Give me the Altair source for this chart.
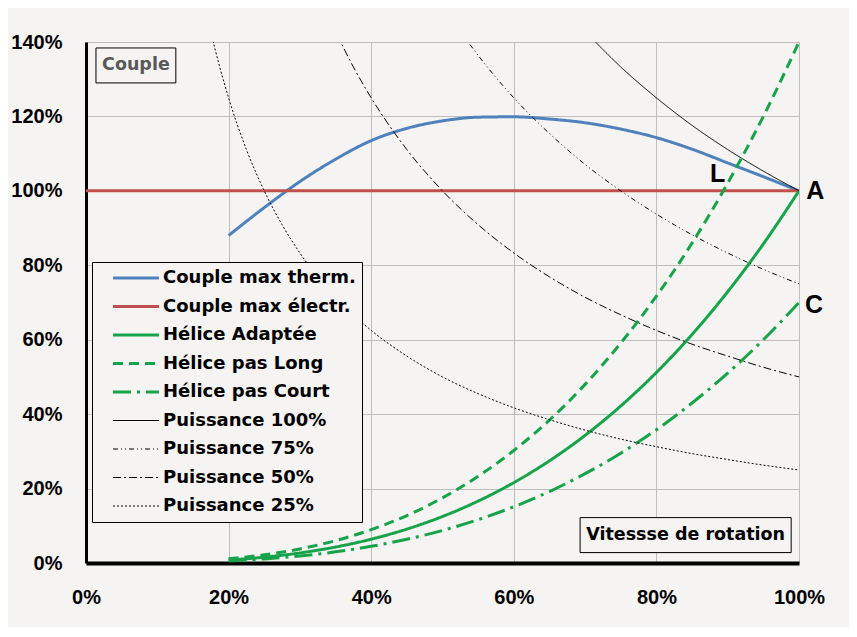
import altair as alt
import pandas as pd

# ---- data ----
series_names = ["Couple max therm.", "Couple max électr.", "Hélice Adaptée",
                "Hélice pas Long", "Hélice pas Court", "Puissance 100%",
                "Puissance 75%", "Puissance 50%", "Puissance 25%"]

therm_x = [20, 25, 30, 35, 40, 45, 50, 55, 60, 65, 70, 75, 80, 85, 90, 95, 100]
therm_y = [88, 95.5, 102.5, 108.5, 113.5, 116.8, 118.8, 119.8, 119.9, 119.3, 118.3, 116.6, 114.3, 111.2, 107.5, 103.8, 100]

elec_x = [0, 100]
elec_y = [100, 100]

hel_x = [20, 25, 30, 35, 40, 45, 50, 55, 60, 65, 70, 75, 80, 85, 90, 95, 100]
adapt_y = [0.8, 1.56, 2.7, 4.29, 6.4, 9.11, 12.5, 16.64, 21.6, 27.46, 34.3, 42.19, 51.2, 61.41, 72.9, 85.74, 100]
long_y = [1.12, 2.19, 3.78, 6.0, 8.96, 12.76, 17.5, 23.3, 30.24, 38.4, 48.0, 59.1, 71.7, 85.97, 102.1, 120.0, 140]
court_y = [0.56, 1.09, 1.89, 3.0, 4.48, 6.38, 8.75, 11.65, 15.12, 19.2, 24.0, 29.5, 35.8, 43.0, 51.0, 60.0, 70]

p100_x = [70, 75, 80, 85, 90, 95, 100]
p100_y = [142.9, 133.3, 125, 117.6, 111.1, 105.3, 100]

p75_x = [50, 52.5, 55, 60, 65, 70, 75, 80, 85, 90, 95, 100]
p75_y = [150, 142.9, 136.4, 125, 115.4, 107.1, 100, 93.75, 88.2, 83.3, 78.9, 75]

p50_x = [32.5, 35, 37.5, 40, 45, 50, 55, 60, 65, 70, 75, 80, 85, 90, 95, 100]
p50_y = [153.8, 142.9, 133.3, 125, 111.1, 100, 90.9, 83.3, 76.9, 71.4, 66.7, 62.5, 58.8, 55.6, 52.6, 50]

p25_x = [15, 17.5, 20, 22.5, 25, 27.5, 30, 35, 40, 45, 50, 55, 60, 65, 70, 75, 80, 85, 90, 95, 100]
p25_y = [166.7, 142.9, 125, 111.1, 100, 90.9, 83.3, 71.4, 62.5, 55.6, 50, 45.5, 41.7, 38.5, 35.7, 33.3, 31.25, 29.4, 27.8, 26.3, 25]

x_ticks = [0, 20, 40, 60, 80, 100]
y_ticks = [0, 20, 40, 60, 80, 100, 120, 140]

point_labels = ["A", "L", "C"]
point_x = [102.3, 88.6, 102.1]
point_y = [100, 104.6, 69.4]

# ---- styles ----
colors = ["#4f81bd", "#c0504d", "#17a34a", "#17a34a", "#17a34a",
          "#000000", "#000000", "#000000", "#000000"]
dashes = [[1, 0], [1, 0], [1, 0], [10, 6], [18, 6, 3, 6],
          [1, 0], [5, 3, 1, 3, 1, 3], [8, 3, 2, 3], [2, 2]]
widths = [3, 3, 3, 3, 3, 1, 1, 1, 1]

rows = []
def add(k, xs, ys):
    for i, (a, b) in enumerate(zip(xs, ys)):
        rows.append({"serie": series_names[k], "x": a, "y": b, "i": i, "w": widths[k]})

add(0, therm_x, therm_y)
add(1, elec_x, elec_y)
add(2, hel_x, adapt_y)
add(3, hel_x, long_y)
add(4, hel_x, court_y)
add(5, p100_x, p100_y)
add(6, p75_x, p75_y)
add(7, p50_x, p50_y)
add(8, p25_x, p25_y)
df = pd.DataFrame(rows)

BG = "#f5f4f2"
LEG_FONT = "DejaVu Sans"

xscale = alt.Scale(domain=[0, 100], nice=False)
yscale = alt.Scale(domain=[0, 140], nice=False)

xaxis = alt.Axis(values=x_ticks, labelExpr="datum.value + '%'", title=None,
                 grid=True, gridColor="#bdbdbd", gridWidth=1, ticks=False,
                 domainColor="black", domainWidth=4, labelPadding=24,
                 labelFlush=False,
                 labelFont="Liberation Sans", labelFontWeight="bold",
                 labelFontSize=20, labelColor="black")
yaxis = alt.Axis(values=y_ticks, labelExpr="datum.value + '%'", title=None,
                 grid=True, gridColor="#bdbdbd", gridWidth=1, ticks=False,
                 domainColor="black", domainWidth=3, labelPadding=24,
                 labelFlush=False,
                 labelFont="Liberation Sans", labelFontWeight="bold",
                 labelFontSize=20, labelColor="black")

sw_expr = "(datum && datum.value && indexof('' + datum.value, 'Puissance') === 0) ? 1 : 3"

legend = alt.Legend(title=None, orient="none", legendX=6, legendY=220,
                    symbolType="stroke", symbolSize=2116,
                    symbolStrokeWidth=alt.ExprRef(sw_expr),
                    labelFont=LEG_FONT,
                    labelFontWeight="bold", labelFontSize=18, labelColor="black",
                    labelLimit=400, fillColor=BG, strokeColor="black",
                    padding=6, rowPadding=8.5, clipHeight=20,
                    labelOffset=18, symbolOffset=29,
                    labelExpr="datum.label + '\u00a0'")

lines = alt.Chart(df).mark_line(clip=True, interpolate="monotone").encode(
    x=alt.X("x:Q", scale=xscale, axis=xaxis),
    y=alt.Y("y:Q", scale=yscale, axis=yaxis),
    color=alt.Color("serie:N", scale=alt.Scale(domain=series_names, range=colors), legend=legend),
    strokeDash=alt.StrokeDash("serie:N", scale=alt.Scale(domain=series_names, range=dashes), legend=legend),
    strokeWidth=alt.StrokeWidth("w:Q", scale=None, legend=None),
    order="i:Q",
)

pts = pd.DataFrame({"t": point_labels, "x": point_x, "y": point_y})
letters = alt.Chart(pts).mark_text(font="Liberation Sans", fontWeight="bold",
                                   fontSize=25, color="black", align="center",
                                   baseline="middle").encode(
    x=alt.X("x:Q", scale=xscale), y=alt.Y("y:Q", scale=yscale), text="t:N")

# annotation boxes (data space)
box_label = ["Couple", "Vitessse de rotation"]
box_x1 = [1.4, 69.3]
box_x2 = [12.6, 98.9]
box_y1 = [129.0, 2.8]
box_y2 = [138.4, 12.2]
box_tx = [7.0, 84.1]
box_ty = [133.7, 7.5]
box_col = ["#595959", "#000000"]
boxes_df = pd.DataFrame({"t": box_label, "x1": box_x1, "x2": box_x2, "y1": box_y1,
                         "y2": box_y2, "tx": box_tx, "ty": box_ty, "c": box_col})
boxes = alt.Chart(boxes_df).mark_rect(fill=BG, stroke="black", strokeWidth=1).encode(
    x=alt.X("x1:Q", scale=xscale), x2="x2:Q",
    y=alt.Y("y1:Q", scale=yscale), y2="y2:Q")
box_text = alt.Chart(boxes_df).mark_text(font=LEG_FONT, fontWeight="bold", fontSize=17.5,
                                         align="center", baseline="middle").encode(
    x=alt.X("tx:Q", scale=xscale), y=alt.Y("ty:Q", scale=yscale), text="t:N",
    color=alt.Color("c:N", scale=None))

chart = alt.layer(lines, boxes, box_text, letters).properties(
    width=713, height=521,
    autosize=alt.AutoSizeParams(type="none"),
    padding={"left": 78, "top": 34, "right": 50, "bottom": 64},
    background=BG,
).configure_view(fill=BG, stroke=None)

chart.save("out.html", embed_options={"renderer": "svg", "actions": False})
